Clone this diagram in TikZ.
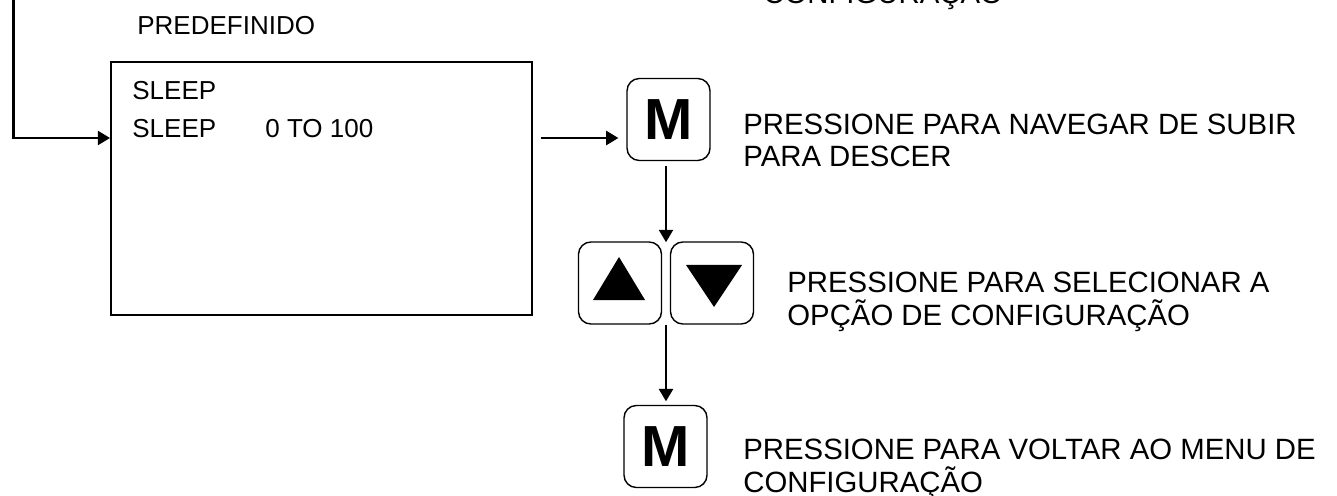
\documentclass[tikz,border=0pt]{standalone}
\usepackage{fontspec}
\setmainfont{Liberation Sans}
\usetikzlibrary{arrows.meta,positioning,calc}

\tikzset{
  conn/.style={line width=1.4pt,-{Triangle[length=7pt,width=8pt]}},
  keybox/.style={draw,line width=0.8pt,rounded corners=7pt,minimum width=1.66cm,minimum height=1.64cm,inner sep=0pt},
  lefttxt/.style={font=\fontsize{14.8}{17}\selectfont,inner sep=0pt,anchor=base west},
  righttxt/.style={font=\fontsize{16.7}{18.7}\selectfont,inner sep=0pt,anchor=base west,align=left},
}

\begin{document}
\begin{tikzpicture}[x=0.02cm,y=-0.02cm]
    \useasboundingbox (0,0) rectangle (1337,496);
    % Display window
    \node[draw,line width=1.1pt,minimum width=8.42cm,minimum height=5.06cm,inner sep=0pt] (screen) at (321.5,188.5) {};
    \node[lefttxt] (predef) at (137,35) {PREDEFINIDO};
    \node[lefttxt] (sleepa) at (132,100) {SLEEP};
    \node[lefttxt] (sleepb) at (132,138) {SLEEP};
    \node[lefttxt] (range) at (265,138) {0 TO 100};
    % Keys
    \node[keybox] (mkeya) at (668.5,119.5) {\fontsize{33}{33}\bfseries M};
    \node[keybox] (upkey) at (620,283) {};
    \node[keybox] (downkey) at (712,283) {};
    \node[keybox] (mkeyb) at (665.5,446.5) {\fontsize{33}{33}\bfseries M};
    \fill (upkey.center) ++(-27,17) -- ++(52,0) -- ++(-26,-43) -- cycle;
    \fill (downkey.center) ++(-26,-18) -- ++(56,0) -- ++(-28,42) -- cycle;
    % Captions (anchored on the last line)
    \node[righttxt] (topcap) at (763,4) {CONFIGURAÇÃO};
    \node[righttxt] (capa) at (743,167) {PRESSIONE PARA NAVEGAR DE SUBIR\\PARA DESCER};
    \node[righttxt] (capb) at (787,325) {PRESSIONE PARA SELECIONAR A\\OPÇÃO DE CONFIGURAÇÃO};
    \node[righttxt] (capc) at (743,492) {PRESSIONE PARA VOLTAR AO MENU DE\\CONFIGURAÇÃO};
    % Connectors
    \coordinate (feed) at (13.5,-5);
    \coordinate (gaptop) at ($(upkey.north east)!0.5!(downkey.north west)$);
    \coordinate (gapbot) at ($(upkey.south east)!0.5!(downkey.south west)$);
    \draw[conn] (feed) |- (screen.west |- 0,138);
    \draw[conn,shorten <=4.5pt,shorten >=4.5pt] (screen.east |- 0,138) -- (mkeya.west |- 0,138);
    \draw[conn,line width=1.1pt,shorten <=3pt] (mkeya.south -| gaptop) -- ++(0,81);
    \draw[conn,line width=1.1pt,shorten >=2pt] (gapbot) -- (mkeyb.north -| gapbot);
\end{tikzpicture}
\end{document}
